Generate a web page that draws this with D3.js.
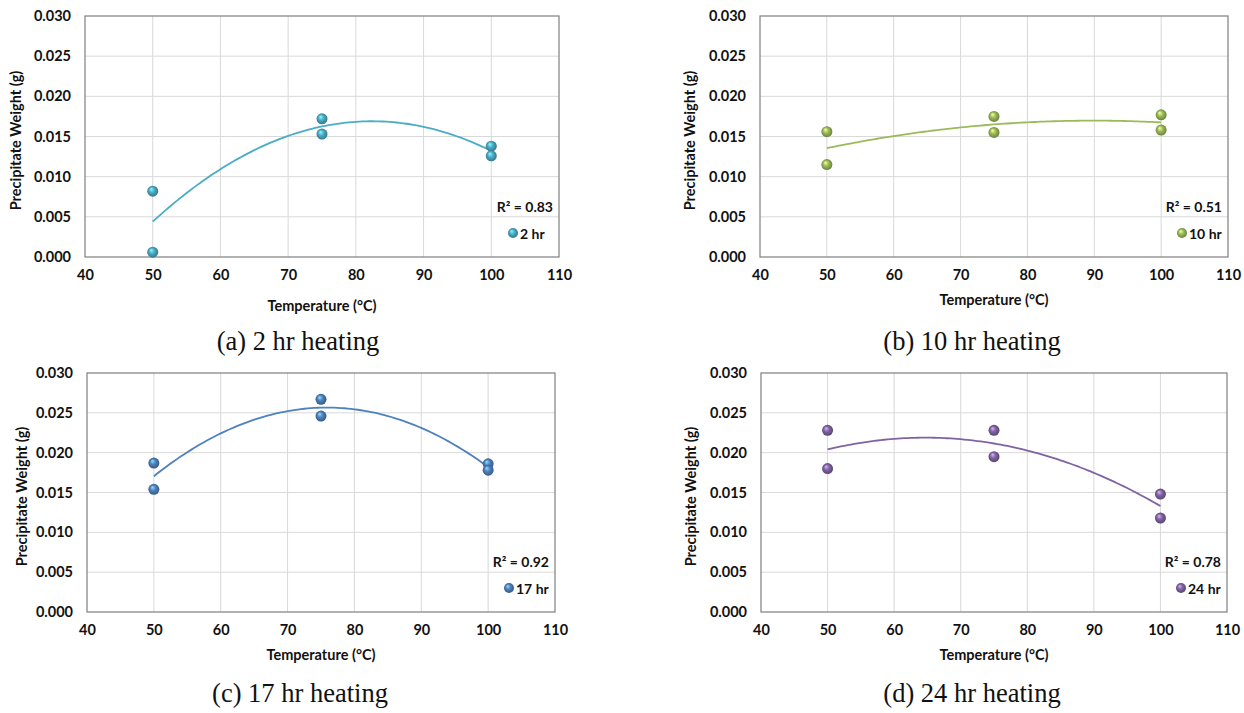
<!DOCTYPE html>
<html>
<head>
<meta charset="utf-8">
<script src="https://cdn.jsdelivr.net/npm/d3@7"></script>
<style>
  body { margin: 0; background: #fff; }
  svg text { font-family: Lato, "Open Sans", sans-serif; font-weight: bold; fill: #111; }
  svg text.caption { font-family: "Liberation Serif", "Times New Roman", serif; font-weight: normal; font-size: 26.5px; }
</style>
</head>
<body>
<svg id="chart" width="1244" height="713"></svg>
<script>
// each temperature was run twice
const temps = [50, 50, 75, 75, 100, 100]
const weight2 = [0.0082, 0.0006, 0.0172, 0.0153, 0.0138, 0.0126]
const weight10 = [0.0156, 0.0115, 0.0175, 0.0155, 0.0177, 0.0158]
const weight17 = [0.0187, 0.0154, 0.0267, 0.0246, 0.0186, 0.0178]
const weight24 = [0.0228, 0.0180, 0.0228, 0.0195, 0.0148, 0.0118]
const seriesNames = ['2 hr', '10 hr', '17 hr', '24 hr']
const r2Labels = ['R² = 0.83', 'R² = 0.51', 'R² = 0.92', 'R² = 0.78']
const captions = ['(a) 2 hr heating', '(b) 10 hr heating', '(c) 17 hr heating', '(d) 24 hr heating']
const xTicks = [40, 50, 60, 70, 80, 90, 100, 110]
const yTicks = [0, 0.005, 0.010, 0.015, 0.020, 0.025, 0.030]

const colors = ['#4BACC6', '#9BBB59', '#4F81BD', '#8064A2']
const panels = [
  { left: 85, right: 559, top: 16, bottom: 257, xTitleY: 311, yTitleX: 15, capX: 298, capY: 350 },
  { left: 760, right: 1228, top: 16, bottom: 257, xTitleY: 305, yTitleX: 689, capX: 972, capY: 350 },
  { left: 87, right: 555, top: 373, bottom: 612, xTitleY: 660, yTitleX: 21, capX: 300, capY: 702 },
  { left: 761, right: 1227, top: 373, bottom: 612, xTitleY: 660, yTitleX: 690, capX: 972, capY: 702 }
]
const allWeights = [weight2, weight10, weight17, weight24]

const svg = d3.select('#chart')
const defs = svg.append('defs')

colors.forEach((c, i) => {
  const g = defs.append('radialGradient')
    .attr('id', 'ball' + i)
    .attr('cx', '50%').attr('cy', '50%').attr('r', '55%')
    .attr('fx', '35%').attr('fy', '30%')
  g.append('stop').attr('offset', '0%').attr('stop-color', d3.color(c).brighter(1.6))
  g.append('stop').attr('offset', '45%').attr('stop-color', c)
  g.append('stop').attr('offset', '100%').attr('stop-color', d3.color(c).darker(1.2))
})

// least squares quadratic fit, same as the excel trendline
function quadFit (xs, ys) {
  const s = k => d3.sum(xs, x => Math.pow(x, k))
  const t = k => d3.sum(xs, (x, i) => Math.pow(x, k) * ys[i])
  const A = [[s(4), s(3), s(2)], [s(3), s(2), s(1)], [s(2), s(1), xs.length]]
  const b = [t(2), t(1), t(0)]
  const det = m => m[0][0] * (m[1][1] * m[2][2] - m[1][2] * m[2][1]) -
    m[0][1] * (m[1][0] * m[2][2] - m[1][2] * m[2][0]) +
    m[0][2] * (m[1][0] * m[2][1] - m[1][1] * m[2][0])
  const D = det(A)
  const coef = [0, 1, 2].map(j => det(A.map((row, r) => row.map((v, c) => c === j ? b[r] : v))) / D)
  return x => coef[0] * x * x + coef[1] * x + coef[2]
}

panels.forEach((p, i) => {
  const ys = allWeights[i]
  const x = d3.scaleLinear().domain([40, 110]).range([p.left, p.right])
  const y = d3.scaleLinear().domain([0, 0.030]).range([p.bottom, p.top])
  const g = svg.append('g')

  g.append('g').selectAll('line.vx').data(xTicks.slice(1, -1)).join('line')
    .attr('x1', d => x(d)).attr('x2', d => x(d))
    .attr('y1', p.top).attr('y2', p.bottom)
    .attr('stroke', '#d9d9d9').attr('stroke-width', 1)
  g.append('g').selectAll('line.hy').data(yTicks.slice(1, -1)).join('line')
    .attr('x1', p.left).attr('x2', p.right)
    .attr('y1', d => y(d)).attr('y2', d => y(d))
    .attr('stroke', '#d9d9d9').attr('stroke-width', 1)

  g.append('rect')
    .attr('x', p.left).attr('y', p.top)
    .attr('width', p.right - p.left).attr('height', p.bottom - p.top)
    .attr('fill', 'none').attr('stroke', '#7f7f7f').attr('stroke-width', 1.2)

  const xAxis = g.append('g').attr('transform', 'translate(0,' + p.bottom + ')')
    .call(d3.axisBottom(x).tickValues(xTicks).tickSize(0).tickPadding(13))
  xAxis.select('.domain').remove()
  xAxis.selectAll('text').attr('font-size', 14.5).attr('fill', '#111')

  const yAxis = g.append('g').attr('transform', 'translate(' + p.left + ',0)')
    .call(d3.axisLeft(y).tickValues(yTicks).tickFormat(d3.format('.3f')).tickSize(0).tickPadding(14))
  yAxis.select('.domain').remove()
  yAxis.selectAll('text').attr('font-size', 14.5).attr('fill', '#111')

  g.append('text')
    .attr('x', (p.left + p.right) / 2).attr('y', p.xTitleY)
    .attr('text-anchor', 'middle').attr('font-size', 14.5)
    .text('Temperature (°C)')
  g.append('text')
    .attr('transform', 'translate(' + p.yTitleX + ',' + ((p.top + p.bottom) / 2 + 4) + ') rotate(-90)')
    .attr('text-anchor', 'middle').attr('dominant-baseline', 'central').attr('font-size', 14.5)
    .text('Precipitate Weight (g)')

  const fit = quadFit(temps, ys)
  const xs = d3.range(50, 100.01, 0.5)
  g.append('path')
    .datum(xs)
    .attr('d', d3.line().x(d => x(d)).y(d => y(fit(d))))
    .attr('fill', 'none').attr('stroke', colors[i]).attr('stroke-width', 1.8)

  g.append('g').selectAll('circle').data(temps).join('circle')
    .attr('cx', d => x(d)).attr('cy', (d, j) => y(ys[j]))
    .attr('r', 5.5).attr('fill', 'url(#ball' + i + ')')

  g.append('text')
    .attr('x', p.right - 6).attr('y', p.bottom - 51)
    .attr('text-anchor', 'end').attr('dominant-baseline', 'central').attr('font-size', 14)
    .text(r2Labels[i])
  const lx = p.right - 46
  const ly = p.bottom - 24
  g.append('circle').attr('cx', lx).attr('cy', ly).attr('r', 5).attr('fill', 'url(#ball' + i + ')')
  g.append('text')
    .attr('x', lx + 7).attr('y', ly).attr('dominant-baseline', 'central').attr('font-size', 14)
    .text(seriesNames[i])

  svg.append('text').attr('class', 'caption')
    .attr('x', p.capX).attr('y', p.capY).attr('text-anchor', 'middle')
    .text(captions[i])
})
</script>
</body>
</html>
